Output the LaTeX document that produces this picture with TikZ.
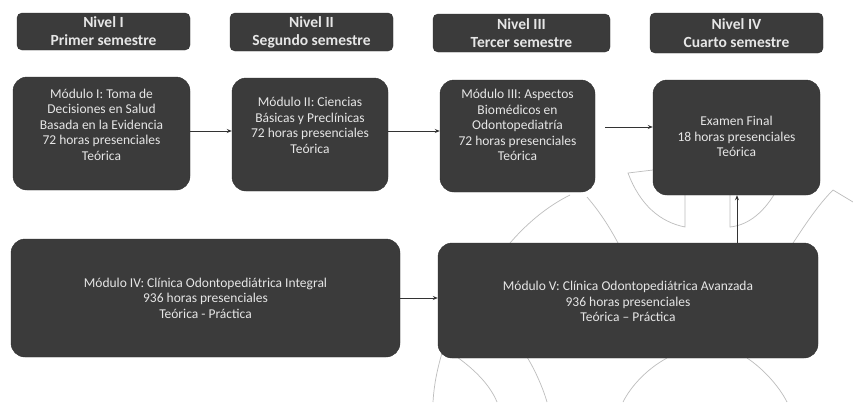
\documentclass[tikz,border=0pt]{standalone}
\usepackage{fontspec}
\setmainfont{Carlito}
\usetikzlibrary{arrows.meta}
\definecolor{boxfill}{HTML}{3B3B3B}
\definecolor{boxtext}{HTML}{E6E6E6}
\definecolor{arcgray}{HTML}{BDBDBD}
\begin{document}
\begin{tikzpicture}[x=1pt,y=-1pt,
  hdr/.style={draw=boxfill!80!black, fill=boxfill, rounded corners=5pt, text=boxtext,
    font=\bfseries\fontsize{15.5}{18}\selectfont, align=center, inner sep=0pt},
  modbox/.style={draw=boxfill!80!black, fill=boxfill, rounded corners=14pt, inner sep=0pt},
  modtext/.style={text=boxtext, font=\fontsize{13.5}{15.5}\selectfont, align=center, inner sep=0pt},
  conn/.style={draw=black!80, line width=1pt, -{Stealth[length=5pt,width=4pt]}},
  wm/.style={draw=arcgray, line width=0.7pt}]
\useasboundingbox (0,0) rectangle (853,402);
\fill[white] (0,0) rectangle (853,402);
% faint background arcs (scan watermark)
\draw[wm] (510,243) .. controls (530,220) and (550,205) .. (570,195);
\draw[wm] (587,197) .. controls (600,212) and (610,228) .. (618,243);
\draw[wm] (653,170) -- (628,173) .. controls (640,205) and (660,222) .. (685,227) -- (685,195);
\draw[wm] (730,195) -- (730,227) .. controls (750,225) and (765,210) .. (775,193);
\draw[wm] (793,243) .. controls (805,225) and (818,205) .. (833,190) -- (853,202);
\draw[wm] (442,353) .. controls (437,370) and (434,385) .. (433,402);
\draw[wm] (457,357) .. controls (475,370) and (490,385) .. (497,402);
\draw[wm] (527,357) .. controls (535,370) and (543,388) .. (547,402);
\draw[wm] (667,358) .. controls (645,370) and (630,388) .. (623,402);
\draw[wm] (747,358) .. controls (765,370) and (780,388) .. (787,402);
% headers
\node[hdr, minimum width=173pt, minimum height=37pt] (h1) at (103.5,31.5) {Nivel I\\Primer semestre};
\node[hdr, minimum width=163pt, minimum height=38pt] (h2) at (311.5,32) {Nivel II\\Segundo semestre};
\node[hdr, minimum width=177pt, minimum height=38pt] (h3) at (521.5,33) {Nivel III\\Tercer semestre};
\node[hdr, minimum width=173pt, minimum height=40pt] (h4) at (736.5,33) {Nivel IV\\Cuarto semestre};
% module boxes
\node[modbox, minimum width=177pt, minimum height=113pt] (m1) at (101.5,133.5) {};
\node[modbox, minimum width=156pt, minimum height=113pt] (m2) at (310,134.5) {};
\node[modbox, minimum width=155pt, minimum height=112pt] (m3) at (517.5,136) {};
\node[modbox, minimum width=167pt, minimum height=115pt] (m6) at (736.5,137.5) {};
\node[modbox, minimum width=389pt, minimum height=118pt] (m4) at (205.5,298) {};
\node[modbox, minimum width=380pt, minimum height=115pt] (m5) at (628,300.5) {};
% module texts
\node[modtext] (t1) at ([yshift=9pt]m1.center) {Módulo I: Toma de\\Decisiones en Salud\\Basada en la Evidencia\\72 horas presenciales\\Teórica};
\node[modtext] (t2) at ([yshift=9pt]m2.center) {Módulo II: Ciencias\\Básicas y Preclínicas\\72 horas presenciales\\Teórica};
\node[modtext] (t3) at ([yshift=11pt]m3.center) {Módulo III: Aspectos\\Biomédicos en\\Odontopediatría\\72 horas presenciales\\Teórica};
\node[modtext] (t6) at ([yshift=1pt]m6.center) {Examen Final\\18 horas presenciales\\Teórica};
\node[modtext] (t4) at (m4.center) {Módulo IV: Clínica Odontopediátrica Integral\\936 horas presenciales\\Teórica - Práctica};
\node[modtext] (t5) at ([yshift=-1pt]m5.center) {Módulo V: Clínica Odontopediátrica Avanzada\\936 horas presenciales\\Teórica – Práctica};
% connectors
\draw[conn] (m1.east |- 0,131) -- (m2.west |- 0,131);
\draw[conn] (m2.east |- 0,131) -- (m3.west |- 0,131);
\draw[conn] ([xshift=10pt]m3.east |- 0,127) -- (m6.west |- 0,127);
\draw[conn] (m4.east |- 0,298) -- (m5.west |- 0,298);
\draw[conn] (m5.north -| 737,0) -- (m6.south -| 737,0);
\end{tikzpicture}
\end{document}
